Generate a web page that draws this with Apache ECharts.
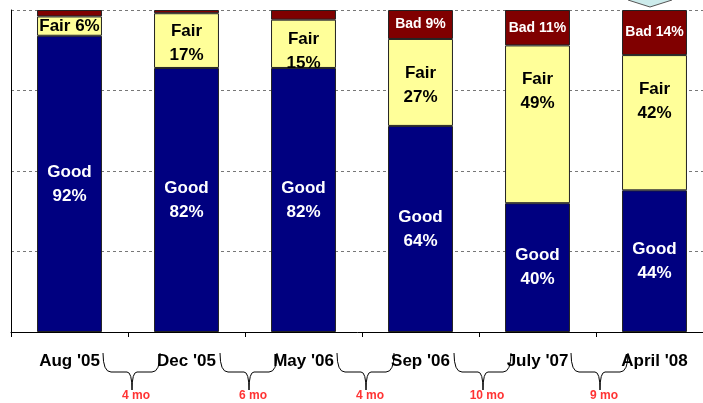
<!DOCTYPE html>
<html>
<head>
<meta charset="utf-8">
<script src="https://cdn.jsdelivr.net/npm/echarts@6/dist/echarts.min.js"></script>
<style>
  html, body { margin: 0; padding: 0; background: #fff; }
  #chart { width: 703px; height: 403px; }
</style>
</head>
<body>
<div id="chart"></div>
<script>
const categories = ["Aug '05", "Dec '05", "May '06", "Sep '06", "July '07", "April '08"];
const good = [92, 82, 82, 64, 40, 44];
const fair = [6, 17, 15, 27, 49, 42];
const bad = [2, 1, 3, 9, 11, 14];
const gaps = ["4 mo", "6 mo", "4 mo", "10 mo", "9 mo"];

const FONT = "'Liberation Sans', Arial, sans-serif";

const dom = document.getElementById("chart");
const chart = echarts.init(dom, null, { renderer: "canvas" });

// fair labels: last three sit near the top of the segment
function fairData() {
  return fair.map(function (v, i) {
    const item = { value: v };
    if (i === 0) {
      item.label = { formatter: "Fair " + v + "%" };
    } else if (i === 1) {
      item.label = { position: "insideTop", distance: 6 };
    } else if (i === 2) {
      item.label = { position: "insideTop", distance: 8 };
    } else if (i >= 3) {
      item.label = { position: "insideTop", distance: 22 };
    }
    return item;
  });
}

function badData() {
  return bad.map(function (v) {
    return { value: v, label: { show: v >= 5 } };
  });
}

const option = {
  animation: false,
  textStyle: { fontFamily: FONT },
  grid: { left: 11, top: 10, right: -10, bottom: 71, containLabel: false, outerBoundsMode: "none" },
  xAxis: {
    type: "category",
    data: categories,
    axisLine: { lineStyle: { color: "#000", width: 1 } },
    axisTick: { show: true, length: 5, lineStyle: { color: "#000" } },
    axisLabel: {
      color: "#000",
      fontWeight: "bold",
      fontSize: 17,
      fontFamily: FONT,
      margin: 21,
      interval: 0
    }
  },
  yAxis: {
    type: "value",
    min: 0,
    max: 100,
    interval: 25,
    axisLine: { show: true, lineStyle: { color: "#000", width: 1 } },
    axisTick: { show: false },
    axisLabel: { show: false },
    splitLine: { show: true, lineStyle: { color: "#777", type: [3, 3], width: 1 } }
  },
  series: [
    {
      name: "Good",
      type: "bar",
      stack: "q",
      zlevel: 1,
      barWidth: "55.5%",
      data: good,
      itemStyle: { color: "#000080", borderColor: "#222", borderWidth: 1 },
      label: {
        show: true,
        position: "inside",
        formatter: "Good\n{c}%",
        color: "#fff",
        fontWeight: "bold",
        fontSize: 17,
        lineHeight: 24,
        fontFamily: FONT
      }
    },
    {
      name: "Fair",
      type: "bar",
      stack: "q",
      data: fairData(),
      itemStyle: { color: "#FFFF99", borderColor: "#222", borderWidth: 1 },
      label: {
        show: true,
        position: "inside",
        formatter: "Fair\n{c}%",
        color: "#000",
        fontWeight: "bold",
        fontSize: 17,
        lineHeight: 24,
        fontFamily: FONT
      }
    },
    {
      name: "Bad",
      type: "bar",
      stack: "q",
      data: badData(),
      itemStyle: { color: "#800000", borderColor: "#222", borderWidth: 1 },
      label: {
        show: true,
        position: "inside",
        formatter: "Bad {c}%",
        color: "#fff",
        fontWeight: "bold",
        fontSize: 14,
        fontFamily: FONT
      }
    }
  ]
};

chart.setOption(option);

// curly braces with month gaps under the axis
function seg(x1, y1, x2, y2) {
  return { type: "line", shape: { x1: x1, y1: y1, x2: x2, y2: y2 },
    style: { stroke: "#000", lineWidth: 1 }, z: 10 };
}
function curve(x1, y1, cx, cy, x2, y2) {
  return { type: "bezierCurve",
    shape: { x1: x1, y1: y1, cpx1: cx, cpy1: cy, x2: x2, y2: y2 },
    style: { stroke: "#000", lineWidth: 1, fill: null }, z: 10 };
}

const graphics = [];
for (let i = 0; i < gaps.length; i++) {
  const a = chart.convertToPixel({ xAxisIndex: 0 }, categories[i]);
  const b = chart.convertToPixel({ xAxisIndex: 0 }, categories[i + 1]);
  const m = (a + b) / 2;
  const x0 = m - 25, x1 = m + 32, xt = m + 4;
  const y0 = 353, ym = 372, yt = 390;
  graphics.push(curve(x0, y0, x0, ym, x0 + 8, ym));
  graphics.push(seg(x0 + 8, ym, xt - 5, ym));
  graphics.push(curve(xt - 5, ym, xt, ym, xt, yt));
  graphics.push(curve(xt, yt, xt, ym, xt + 5, ym));
  graphics.push(seg(xt + 5, ym, x1 - 8, ym));
  graphics.push(curve(x1 - 8, ym, x1, ym, x1, y0));
  graphics.push({
    type: "text",
    x: m + 8,
    y: 396,
    style: {
      text: gaps[i],
      fill: "#FF3333",
      font: "bold 12px " + FONT,
      textAlign: "center",
      textVerticalAlign: "middle"
    },
    z: 11
  });
}
// tip of the callout arrow at the top right
graphics.push({
  type: "polygon",
  shape: { points: [[628, -10], [672, -10], [672, 0], [650, 7], [628, 0]] },
  style: { fill: "#CCEBEB", stroke: "#555", lineWidth: 1 },
  z: 10
});

chart.setOption({ graphic: graphics });
</script>
</body>
</html>
